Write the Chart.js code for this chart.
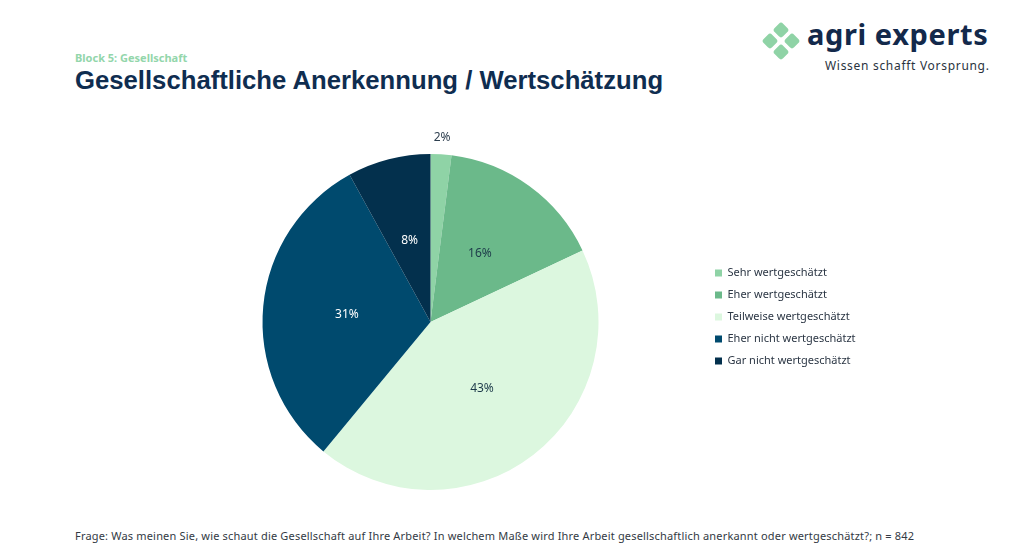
<!DOCTYPE html>
<html>
<head>
<meta charset="utf-8">
<script src="https://cdn.jsdelivr.net/npm/chart.js@4"></script>
<style>
  body { margin: 0; width: 1024px; height: 553px; background: #fff; overflow: hidden; position: relative; font-family: "Noto Sans", sans-serif; }
  #block { position: absolute; left: 75px; top: 50px; font: 700 11px "Noto Sans", sans-serif; color: #93d6ab; }
  #title { position: absolute; left: 75px; top: 66px; font: 700 25.7px "Liberation Sans", Arial, sans-serif; color: #0f2d50; white-space: nowrap; }
  #footer { position: absolute; left: 75px; top: 528px; font: 400 11px "Noto Sans", sans-serif; letter-spacing: 0.18px; color: #333a44; white-space: nowrap; }
  .dia { position: absolute; width: 12px; height: 12px; background: #8fd3a6; border-radius: 3px; transform: rotate(45deg); }
  #brand { position: absolute; left: 807px; top: 14px; font: 700 29px "Noto Sans", sans-serif; color: #13294b; white-space: nowrap; letter-spacing: 0.6px; }
  #slogan { position: absolute; left: 825px; top: 57px; font: 400 12px "Noto Sans", sans-serif; letter-spacing: 0.7px; color: #2a3340; white-space: nowrap; }
  #wrap { position: absolute; left: 147px; top: 119px; width: 757px; height: 376px; }
</style>
</head>
<body>
<div id="block">Block 5: Gesellschaft</div>
<div id="title">Gesellschaftliche Anerkennung / Wertschätzung</div>
<div class="dia" style="left:775px;top:24px"></div>
<div class="dia" style="left:764px;top:35px"></div>
<div class="dia" style="left:786px;top:35px"></div>
<div class="dia" style="left:775px;top:46px"></div>
<div id="brand">agri experts</div>
<div id="slogan">Wissen schafft Vorsprung.</div>
<div id="wrap"><canvas id="pieChart"></canvas></div>
<div id="footer">Frage: Was meinen Sie, wie schaut die Gesellschaft auf Ihre Arbeit? In welchem Maße wird Ihre Arbeit gesellschaftlich anerkannt oder wertgeschätzt?; n = 842</div>
<script>
const categories = ['Sehr wertgeschätzt', 'Eher wertgeschätzt', 'Teilweise wertgeschätzt', 'Eher nicht wertgeschätzt', 'Gar nicht wertgeschätzt'];
const shares = [2, 16, 43, 31, 8];

const sliceColors = ['#8fd3a6', '#6bb98a', '#dcf7df', '#004a6e', '#03304d'];
const labelColors = ['#2d3e4e', '#1d3a4a', '#1d3a4a', '#ffffff', '#ffffff'];

// percent labels: inside at half radius, tiny slice outside
const pctLabels = {
    id: 'pctLabels',
    afterDatasetsDraw(chart) {
        const ctx = chart.ctx;
        const meta = chart.getDatasetMeta(0);
        ctx.save();
        ctx.font = '12px "Noto Sans", sans-serif';
        ctx.textAlign = 'center';
        ctx.textBaseline = 'middle';
        meta.data.forEach((arc, i) => {
            const v = shares[i];
            let x, y;
            if (v < 5) {
                const p = arc.getProps(['x', 'y', 'startAngle', 'endAngle', 'outerRadius'], true);
                const mid = (p.startAngle + p.endAngle) / 2;
                const r = p.outerRadius + 17;
                x = p.x + Math.cos(mid) * r;
                y = p.y + Math.sin(mid) * r;
            } else {
                const pos = arc.tooltipPosition(true);
                x = pos.x;
                y = pos.y;
            }
            ctx.fillStyle = labelColors[i];
            ctx.fillText(v + '%', x, y);
        });
        ctx.restore();
    }
};

// fixed legend width so the pie sits where it should
const legendWidth = {
    id: 'legendWidth',
    beforeInit(chart) {
        const fit = chart.legend.fit;
        chart.legend.fit = function () {
            fit.call(this);
            this.width = 200;
        };
    },
    afterLayout(chart) {
        chart.legend.top -= 5;
        chart.legend.bottom -= 5;
    }
};

const data = {
    labels: categories,
    datasets: [{
        data: shares,
        backgroundColor: sliceColors,
        borderWidth: 0
    }]
};

const config = {
    type: 'pie',
    data: data,
    options: {
        responsive: true,
        maintainAspectRatio: false,
        animation: false,
        layout: { padding: { top: 35, bottom: 5, left: 10, right: 0 } },
        plugins: {
            legend: {
                position: 'right',
                align: 'center',
                labels: {
                    boxWidth: 7,
                    boxHeight: 7,
                    padding: 11,
                    color: '#2b3644',
                    font: { size: 11, family: '"Noto Sans", sans-serif' }
                }
            },
            tooltip: { enabled: false }
        }
    },
    plugins: [pctLabels, legendWidth]
};

// eslint-disable-next-line
const pieChart = new Chart(
    document.getElementById('pieChart'),
    config
);
</script>
</body>
</html>
